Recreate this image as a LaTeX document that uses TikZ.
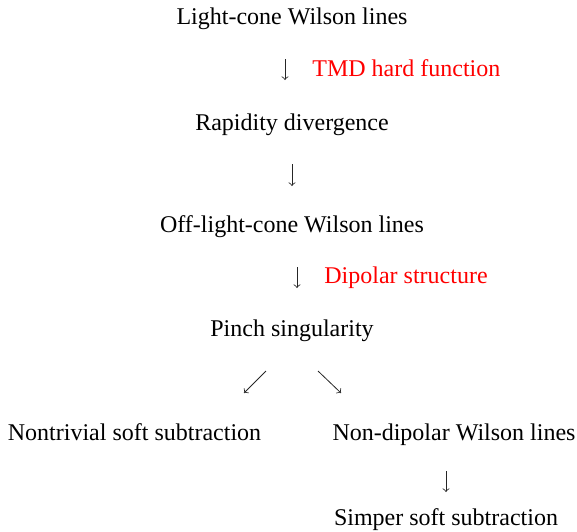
\documentclass[tikz,border=0pt]{standalone}
\usepackage{fontspec}
\setmainfont{Liberation Serif}
\begin{document}
\begin{tikzpicture}[x=0.5pt,y=-0.5pt,
  lbl/.style={font=\fontsize{12}{14}\selectfont, inner sep=0pt, anchor=base},
  rlbl/.style={font=\fontsize{12}{14}\selectfont, text=red, inner sep=0pt, anchor=base west},
  arr/.style={-to, line width=0.4pt, black!85}]
\useasboundingbox (0,0) rectangle (577,531);
\node[lbl] (lc) at (292,24.5) {Light-cone Wilson lines};
\node[rlbl] (tmd) at (312,76.5) {TMD hard function};
\node[lbl] (rd) at (292,130) {Rapidity divergence};
\node[lbl] (olc) at (292,232) {Off-light-cone Wilson lines};
\node[rlbl] (dip) at (324,283.5) {Dipolar structure};
\node[lbl] (ps) at (292,336) {Pinch singularity};
\node[lbl] (nts) at (134.5,440) {Nontrivial soft subtraction};
\node[lbl] (ndw) at (454,440) {Non-dipolar Wilson lines};
\node[lbl] (sss) at (446,525) {Simper soft subtraction};
\coordinate (a1s) at (285,59); \coordinate (a1e) at (285,80);
\coordinate (a2s) at (292,164); \coordinate (a2e) at (292,186);
\coordinate (a3s) at (297,267); \coordinate (a3e) at (297,288);
\coordinate (a4s) at (266,371); \coordinate (a4e) at (244,393);
\coordinate (a5s) at (318,371); \coordinate (a5e) at (341,393);
\coordinate (a6s) at (446,471); \coordinate (a6e) at (446,492);
\draw[arr] (a1s) -- (a1e);
\draw[arr] (a2s) -- (a2e);
\draw[arr] (a3s) -- (a3e);
\draw[arr] (a4s) -- (a4e);
\draw[arr] (a5s) -- (a5e);
\draw[arr] (a6s) -- (a6e);
\end{tikzpicture}
\end{document}
